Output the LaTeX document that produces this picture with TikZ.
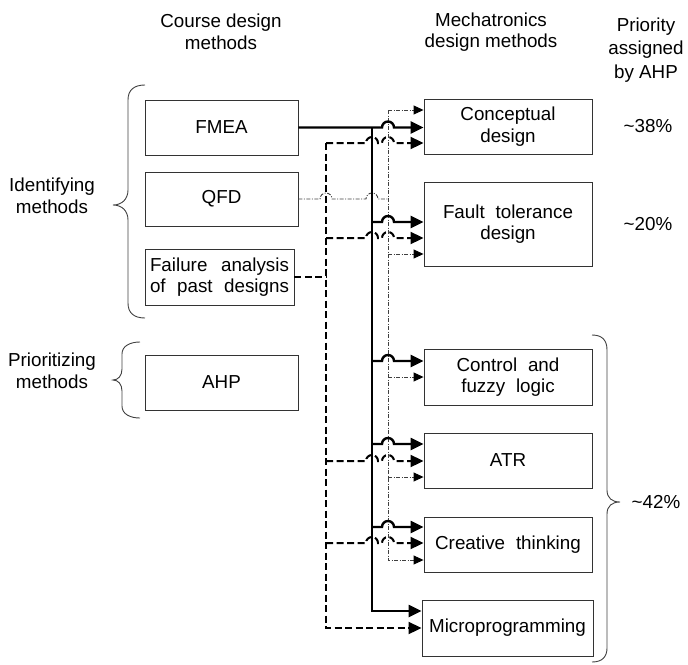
\documentclass[tikz,border=0pt]{standalone}
\usepackage{fontspec}
\setmainfont{Liberation Sans}
\usetikzlibrary{arrows.meta}
\newcommand\mybodyfont{\fontsize{18.8}{21.5}\selectfont}
\newcommand\myheadfont{\fontsize{18.8}{21.5}\selectfont}
\newcommand\myprioheadfont{\fontsize{18.8}{23.8}\selectfont}

\begin{document}
\begin{tikzpicture}[x=1pt,y=1pt,
  box/.style={draw=black!80, line width=0.9pt, inner sep=0pt, align=center, font=\mybodyfont},
  lbox/.style={box, minimum width=153pt, minimum height=55pt},
  rbox/.style={box, minimum width=168pt, minimum height=55pt},
  head/.style={align=center, font=\myheadfont, inner sep=0pt},
  lbl/.style={align=center, font=\mybodyfont, inner sep=0pt},
  solidln/.style={line width=2.4pt},
  dashln/.style={line width=2pt, dash pattern=on 7pt off 3.5pt},
  dotln/.style={line width=0.9pt, black!75, dash pattern=on 4pt off 1.5pt on 1pt off 1.5pt},
  bigtip/.style={-{Triangle[length=13pt,width=12pt,color=black]}},
  smalltip/.style={-{Triangle[length=10pt,width=9pt,color=black]}},
  bracket/.style={draw=black!75, line width=0.9pt}
]
\useasboundingbox (0,0) rectangle (688,-664);

% column headings
\node[head] (hcourse) at (221,-32) {Course design\\methods};
\node[head] (hmech) at (491,-32) {Mechatronics\\design methods};
\node[head, font=\myprioheadfont] (hprio) at (646,-50) {Priority\\assigned\\by AHP};

% course design methods
\node[lbox] (fmea) at (221.5,-127.5) {FMEA};
\node[lbox, minimum height=54pt] (qfd) at (221.5,-199) {QFD};
\node[lbox, minimum width=149pt, minimum height=56pt] (fail) at (219.5,-277)
  {\makebox[139pt][s]{Failure analysis}\\\makebox[139pt][s]{of past designs}};
\node[lbox] (ahp) at (221.5,-382.5) {AHP};

% mechatronics design methods
\node[rbox] (concept) at (508,-126.5) {Conceptual\\design};
\node[rbox, minimum height=84pt] (fault) at (508,-224) {Fault\hspace{0.3em} tolerance\\design};
\node[rbox, minimum height=56pt] (fuzzy) at (508,-377) {Control\hspace{0.3em} and\\fuzzy\hspace{0.3em} logic};
\node[rbox] (atr) at (508,-460.5) {ATR};
\node[rbox] (creative) at (508,-544.5) {Creative\hspace{0.3em} thinking};
\node[rbox, minimum width=171pt, minimum height=56pt] (micro) at (507.5,-628) {Microprogramming};

% priorities
\node[lbl] (p38) at (648,-126) {\textasciitilde38\%};
\node[lbl] (p20) at (648,-224) {\textasciitilde20\%};
\node[lbl] (p42) at (656,-502) {\textasciitilde42\%};

% group labels
\node[lbl] (ident) at (52,-196) {Identifying\\methods};
\node[lbl] (prior) at (52,-371) {Prioritizing\\methods};

% braces
\draw[bracket] (145,-85) .. controls (134,-85) and (128,-90) .. (128,-100) -- (128,-190)
  .. controls (128,-199) and (122,-205) .. (113,-205)
  .. controls (122,-205) and (128,-211) .. (128,-220) -- (128,-303)
  .. controls (128,-313) and (134,-318) .. (145,-318);
\draw[bracket] (140,-342) .. controls (130,-342) and (122,-346) .. (122,-354) -- (122,-369)
  .. controls (122,-376) and (118,-380) .. (113,-380)
  .. controls (118,-380) and (122,-384) .. (122,-391) -- (122,-406)
  .. controls (122,-414) and (130,-418) .. (140,-418);
\draw[bracket] (592,-335) .. controls (602,-335) and (607,-340) .. (607,-350) -- (607,-490)
  .. controls (607,-498) and (612,-502) .. (620,-502)
  .. controls (612,-502) and (607,-506) .. (607,-514) -- (607,-648)
  .. controls (607,-657) and (602,-662) .. (592,-662);

% bus positions
\coordinate (sb) at (372,-127.5);
\coordinate (db) at (326,-143);
\coordinate (tb) at (388,-110);
\coordinate (qj) at (388,-199);
\coordinate (fj) at (326,-277);

% dash-dot bus (QFD)
\draw[dotln] (qfd.east) -- (320,-199) arc[start angle=180,end angle=0,radius=6]
  -- (366,-199) arc[start angle=180,end angle=0,radius=6] -- (qj);
\draw[dotln, smalltip] (tb) -- (concept.west |- tb);
\draw[dotln, smalltip] (tb) -- (388,-560) -- (creative.west |- 0,-560);
\draw[dotln, smalltip] (388,-254) -- (fault.west |- 0,-254);
\draw[dotln, smalltip] (388,-377) -- (fuzzy.west |- 0,-377);
\draw[dotln, smalltip] (388,-477) -- (atr.west |- 0,-477);

% solid bus (FMEA)
\draw[solidln, bigtip] (fmea.east) -- (382,-127.5) arc[start angle=180,end angle=0,radius=6]
  -- (concept.west |- fmea.east);
\draw[solidln, bigtip] (sb) -- (372,-611) -- (micro.west |- 0,-611);
\draw[solidln, bigtip] (372,-222) -- (382,-222) arc[start angle=180,end angle=0,radius=6] -- (fault.west |- 0,-222);
\draw[solidln, bigtip] (372,-361) -- (382,-361) arc[start angle=180,end angle=0,radius=6] -- (fuzzy.west |- 0,-361);
\draw[solidln, bigtip] (372,-444) -- (382,-444) arc[start angle=180,end angle=0,radius=6] -- (atr.west |- 0,-444);
\draw[solidln, bigtip] (372,-527) -- (382,-527) arc[start angle=180,end angle=0,radius=6] -- (creative.west |- 0,-527);

% dashed bus (failure analysis)
\draw[dashln] (fail.east) -- (fj);
\draw[dashln, bigtip] (db) -- (326,-628) -- (micro.west |- 0,-628);
\draw[dashln, bigtip] (db) -- (366,-143) arc[start angle=180,end angle=0,radius=6]
  -- (382,-143) arc[start angle=180,end angle=0,radius=6] -- (concept.west |- db);
\draw[dashln, bigtip] (326,-238) -- (366,-238) arc[start angle=180,end angle=0,radius=6]
  -- (382,-238) arc[start angle=180,end angle=0,radius=6] -- (fault.west |- 0,-238);
\draw[dashln, bigtip] (326,-461) -- (366,-461) arc[start angle=180,end angle=0,radius=6]
  -- (382,-461) arc[start angle=180,end angle=0,radius=6] -- (atr.west |- 0,-461);
\draw[dashln, bigtip] (326,-543) -- (366,-543) arc[start angle=180,end angle=0,radius=6]
  -- (382,-543) arc[start angle=180,end angle=0,radius=6] -- (creative.west |- 0,-543);
\end{tikzpicture}
\end{document}
